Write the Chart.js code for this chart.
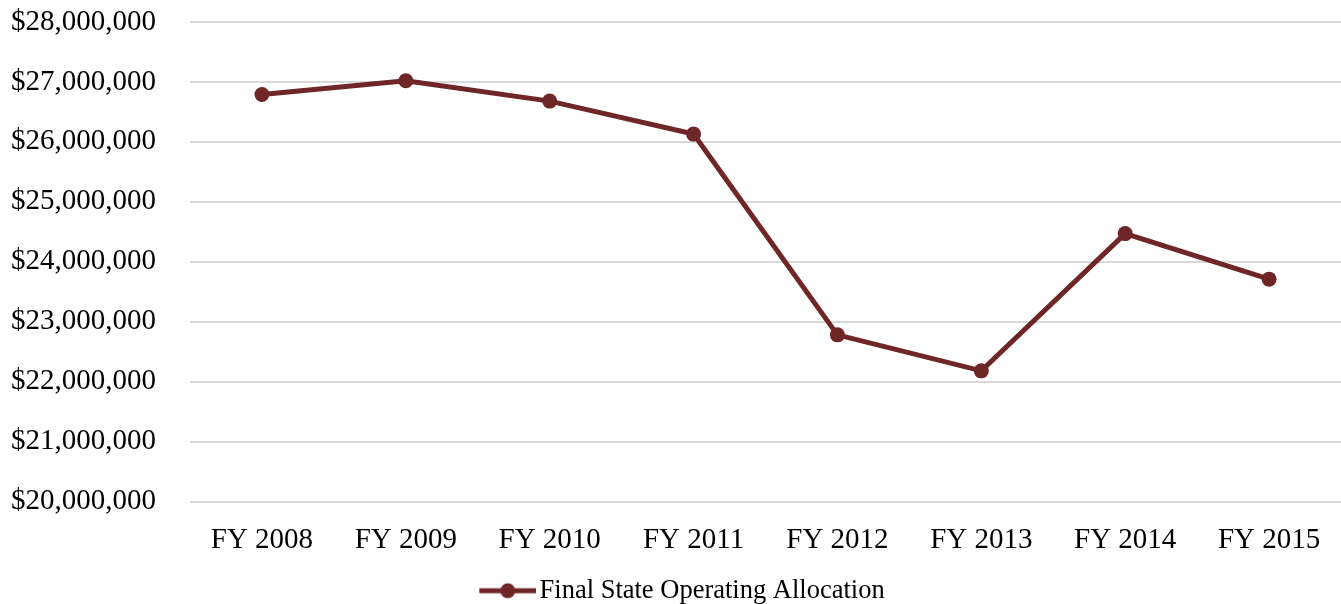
<!DOCTYPE html>
<html>
<head>
<meta charset="utf-8">
<script src="https://cdn.jsdelivr.net/npm/chart.js@4/dist/chart.umd.min.js"></script>
<style>
    html, body { margin: 0; padding: 0; background: #fff; }
    #wrap { width: 1341px; height: 604px; position: relative; }
</style>
</head>
<body>
<div id="wrap"><canvas id="chart"></canvas></div>
<script>
// 数据
const years = ['FY 2008', 'FY 2009', 'FY 2010', 'FY 2011', 'FY 2012', 'FY 2013', 'FY 2014', 'FY 2015'];
const allocation = [26790000, 27020000, 26680000, 26130000, 22780000, 22180000, 24470000, 23710000];
const yMin = 20000000;
const yMax = 28000000;
const yStep = 1000000;
const seriesName = 'Final State Operating Allocation';

const lineColor = '#6f2626';

// 图例图标: 线 + 圆点 (左侧留空, 让文字紧贴图标)
function legendIcon() {
    const c = document.createElement('canvas');
    c.width = 90;
    c.height = 18;
    const ctx = c.getContext('2d');
    ctx.strokeStyle = lineColor;
    ctx.lineWidth = 5;
    ctx.beginPath();
    ctx.moveTo(33, 9);
    ctx.lineTo(90, 9);
    ctx.stroke();
    ctx.fillStyle = lineColor;
    ctx.beginPath();
    ctx.arc(61.5, 9, 7.5, 0, Math.PI * 2);
    ctx.fill();
    return c;
}

const fontFamily = '"Liberation Serif", "Times New Roman", serif';

new Chart(document.getElementById('chart'), {
    type: 'line',
    data: {
        labels: years,
        datasets: [{
            label: seriesName,
            data: allocation,
            borderColor: lineColor,
            backgroundColor: lineColor,
            borderWidth: 5,
            pointRadius: 7.5,
            pointHoverRadius: 7.5,
            pointBackgroundColor: lineColor,
            pointBorderWidth: 0,
            tension: 0,
            pointStyle: 'circle'
        }]
    },
    options: {
        responsive: true,
        maintainAspectRatio: false,
        animation: false,
        layout: {
            autoPadding: false,
            padding: { left: 0, right: 0, top: 22, bottom: -10 }
        },
        plugins: {
            tooltip: { enabled: false },
            legend: {
                position: 'bottom',
                labels: {
                    usePointStyle: true,
                    pointStyle: legendIcon(),
                    pointStyleWidth: 70,
                    color: '#000',
                    padding: 2,
                    font: { family: fontFamily, size: 26.5 }
                }
            }
        },
        scales: {
            x: {
                offset: true,
                grid: { display: false, drawTicks: false },
                border: { display: false },
                ticks: {
                    color: '#000',
                    padding: 21,
                    maxRotation: 0,
                    font: { family: fontFamily, size: 29 }
                },
                afterFit: scale => {
                    scale.height = 74;
                    scale.paddingLeft = 0;
                    scale.paddingRight = 0;
                }
            },
            y: {
                min: yMin,
                max: yMax,
                grid: {
                    color: '#d9d9d9',
                    lineWidth: 2,
                    drawTicks: false
                },
                border: { display: false },
                ticks: {
                    stepSize: yStep,
                    color: '#000',
                    padding: 34,
                    font: { family: fontFamily, size: 29 },
                    callback: v => '$' + v.toLocaleString('en-US')
                },
                afterFit: scale => {
                    scale.width = 190;
                    scale.paddingTop = 0;
                    scale.paddingBottom = 0;
                }
            }
        }
    }
});
</script>
</body>
</html>
